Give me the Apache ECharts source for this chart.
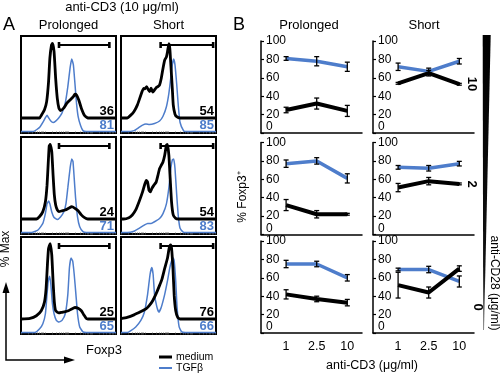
<!DOCTYPE html>
<html><head><meta charset="utf-8">
<script src="https://cdn.jsdelivr.net/npm/echarts@6/dist/echarts.min.js"></script>
<style>html,body{margin:0;padding:0;background:#fff}#c{width:500px;height:373px}</style>
</head><body><div id="c"></div>
<script>
// ---------------- DATA ----------------
const conditions = ['Prolonged', 'Short'];
const cd28Doses = ['10', '2', '0'];
const cd3Doses = ['1', '2.5', '10'];

// Panel A histograms: [Foxp3 position (0-100 across plot), % of max]
const histProlonged10Medium = [[0,0],[19.6,0],[21.3,3],[24.7,10],[27,20],[29,44],[30.4,73],[32.1,89],[33.1,91],[34.8,81],[36.5,48],[38.2,24],[39.9,12],[41.6,9],[44.9,12],[48.3,18],[51.7,22],[55.1,26],[56.8,29],[58.4,28],[60.8,22],[63.5,12],[66.9,3],[70.3,0],[100,0]];
const histProlonged10Tgfb = [[0,0],[12.8,0],[19.6,4.4],[23,9.5],[25.7,14.5],[27.4,17],[29,14.5],[31.4,11],[33.8,9.5],[36.5,11],[39.9,14.5],[43.2,19.6],[46.6,30],[49.3,47],[51.7,67],[53.4,76],[55.1,70],[56.8,50],[58.4,30],[60.1,16],[62.8,6],[65.2,1],[68.6,0],[100,0]];
const histProlonged2Medium = [[0,0],[16.2,0],[19.6,3],[23,9],[25.7,21],[27.4,41],[28.7,69],[29.7,89],[30.7,91],[32.4,82],[33.8,53],[35.1,29],[36.5,17],[38.2,11],[39.9,9],[43.2,10],[46.6,11],[50,13],[53.4,15],[56.8,13],[60.1,10],[63.5,5],[66.9,1.6],[70.3,0],[100,0]];
const histProlonged2Tgfb = [[0,0],[11,0],[17.9,2.7],[23,9.6],[25.7,20],[27.4,30],[29,33],[30.4,30],[32.4,21.5],[34.8,15.7],[38.2,13.7],[41.6,16.4],[45,21.5],[47.3,30],[49.3,47],[51.7,67.6],[53.4,77],[54.7,74.4],[56,57],[57.4,37],[59.5,16.4],[61.8,6],[65.2,1],[68.6,0],[100,0]];
const histProlonged0Medium = [[0,0],[9.5,0.8],[16.2,4],[21.3,10],[24.7,20.6],[26.4,37],[28,70],[29,86],[30.7,92],[32.4,78],[33.8,45],[35.1,20.6],[36.5,10],[39.9,7.4],[43.2,8.2],[46.6,9],[50,10],[53.4,12.3],[56.8,14],[60.1,13],[63.5,10],[66.2,5],[68.6,0.8],[70.3,0],[100,0]];
const histProlonged0Tgfb = [[0,0],[14.5,0],[19.6,4],[23,9.3],[25.7,19.7],[27.4,40],[28.7,54],[30.1,59],[31.4,50.7],[33.1,30],[34.8,19.7],[37.2,12.8],[39.9,11],[43.2,12.8],[46.6,19.7],[49.3,40],[51,68],[52.7,78],[54.4,75],[56,61],[57.8,40],[59.5,19.7],[61.8,5.9],[65.2,0.7],[68.6,0],[100,0]];
const histShort10Medium = [[0,0],[6.5,0],[10,3.2],[13.7,8],[17.3,16],[20.9,28],[23.7,36],[25.2,35.5],[27,38.3],[28.8,34.3],[30.2,32.3],[31.7,36.3],[33.5,31.5],[35.3,34.3],[37,37],[38.8,38.3],[40.6,40.3],[42.4,48.4],[44.2,60.5],[46,70.6],[47.8,74.6],[48.9,80.6],[50.4,90.7],[51.4,84.7],[52.5,64.5],[54,36.3],[55,16],[56.8,4.8],[58.6,1.6],[62.2,0],[100,0]];
const histShort10Tgfb = [[0,0],[6.5,0],[13.7,1],[19,4.4],[22.7,6.8],[26.3,7.8],[29.9,7.4],[35.3,8.4],[40.6,11],[44.2,16],[47.8,26],[50.4,40],[52.5,57],[54,70],[55.4,76],[56.8,70],[58.6,50],[60.4,26],[62.2,9.5],[65.8,1],[68.3,0],[100,0]];
const histShort2Medium = [[0,0],[2.9,0],[8.3,1.6],[11.9,4.9],[15.5,11],[19,21],[22.7,33],[25.2,43],[26.6,47],[28,45],[29.5,35],[30.9,33],[32.4,37],[34.5,41],[37,45],[38.8,53],[40.6,61.5],[42.4,65.6],[44.2,69.6],[46,77.7],[47.8,90],[48.9,91],[50.4,77.7],[51.8,49],[53.2,21],[55,4.9],[57.6,0.8],[60.4,0],[100,0]];
const histShort2Tgfb = [[0,0],[6.5,0],[13.7,1.4],[19,4.4],[24.5,7.8],[28,9.6],[31.7,9.6],[35.3,11.3],[40.6,14.7],[44.2,19.8],[47.8,30],[50.4,47],[52.5,67.6],[54,76],[55.4,77],[56.8,67.6],[58.6,40],[60.4,16.4],[62.2,4.4],[65.8,0.3],[68.3,0],[100,0]];
const histShort0Medium = [[0,0.5],[6.5,2],[13.7,5],[20.9,9],[26.3,12.3],[29.9,16.5],[33.5,22.6],[37,30.9],[40.6,41],[43.2,49],[46,61.7],[48.9,74],[50.7,86.4],[52.2,90.5],[53.2,86.4],[54.7,61.7],[56,28.8],[57.6,10],[59.7,2],[62.2,0],[100,0]];
const histShort0Tgfb = [[0,0],[6.5,0],[10,1.7],[15.5,5.9],[20.9,12.8],[24.5,21],[28,40],[30.6,61],[32.4,68],[33.8,61],[35.3,40],[37.8,26.6],[39.9,21.4],[42.4,26.6],[46,40],[48.9,54],[51.4,68],[53.2,75],[55,78],[56,75],[57.6,54],[59,26.6],[61.2,5.9],[64,0.7],[67.6,0],[100,0]];

const pctMediumProlonged = [36, 24, 25];
const pctTgfbProlonged = [81, 71, 65];
const pctMediumShort = [54, 54, 76];
const pctTgfbShort = [85, 83, 66];
const gateProlonged = [40, 93];
const gateShort = [41.7, 97];
const gateLevel = 89;

// Panel B: rows = anti-CD28 10, 2, 0 ; columns = anti-CD3 1, 2.5, 10
const prolongedMediumMean = [[25, 32, 24], [32, 22, 22], [42, 37, 33]];
const prolongedMediumErr  = [[3, 6, 6], [6, 4, 1], [5, 3, 3.5]];
const prolongedTgfbMean   = [[81, 78, 72], [77, 80, 61], [75, 75, 60]];
const prolongedTgfbErr    = [[2, 5, 5], [4, 3.5, 5], [4, 3, 3.5]];
const shortMediumMean     = [[54, 65, 53], [51, 58, 55], [52, 44, 70]];
const shortMediumErr      = [[1, 3, 1], [4.5, 4, 1], [14, 6, 3]];
const shortTgfbMean       = [[72, 67, 78], [73, 72, 77], [69, 69, 56]];
const shortTgfbErr        = [[4, 3.5, 3], [2, 3, 2.5], [1.5, 3.5, 6]];

// ---------------- BUILD ----------------
const FONT = "'Liberation Sans', Arial, Helvetica, sans-serif";
const BLUE = '#4e7dcb';
const histMedium = [[histProlonged10Medium, histShort10Medium], [histProlonged2Medium, histShort2Medium], [histProlonged0Medium, histShort0Medium]];
const histTgfb = [[histProlonged10Tgfb, histShort10Tgfb], [histProlonged2Tgfb, histShort2Tgfb], [histProlonged0Tgfb, histShort0Tgfb]];
const pctMedium = [pctMediumProlonged, pctMediumShort];
const pctTgfb = [pctTgfbProlonged, pctTgfbShort];
const gates = [gateProlonged, gateShort];
const meanMedium = [prolongedMediumMean, shortMediumMean];
const errMedium = [prolongedMediumErr, shortMediumErr];
const meanTgfb = [prolongedTgfbMean, shortTgfbMean];
const errTgfb = [prolongedTgfbErr, shortTgfbErr];

const A_LEFT = [21, 121], A_W = 95, A_TOP = [36, 137, 237], A_H = 97, A_STRIP = 15;
const B_LEFT = [261, 373], B_W = 101, B_TOP = [41, 142.5, 241], B_H = 92;

const logTicks = [];
for (let d = 0; d < 4; d++) for (let k = 1; k < 10; k++) logTicks.push(d * 25 + Math.log10(k) * 25);

const grid = [], xAxis = [], yAxis = [], series = [], graphic = [];

function txt(text, x, y, o) {
  o = o || {};
  return { type: 'text', x: x, y: y, rotation: o.rot || 0, silent: true, z: 100,
    style: { text: text, x: 0, y: 0, fill: o.color || '#000', align: o.align || 'center', verticalAlign: o.valign || 'middle',
      font: (o.weight || 'normal') + ' ' + (o.size || 12) + 'px ' + FONT } };
}

function errorSeries(gi, means, errs) {
  return { type: 'custom', xAxisIndex: gi, yAxisIndex: gi, z: 6, silent: true,
    data: means.map((m, i) => [i, m - errs[i], m + errs[i]]),
    renderItem: function (params, api) {
      const lo = api.coord([api.value(0), api.value(1)]);
      const hi = api.coord([api.value(0), api.value(2)]);
      const w = 2.5, st = { stroke: '#000', lineWidth: 1.3 };
      return { type: 'group', children: [
        { type: 'line', shape: { x1: lo[0], y1: lo[1], x2: hi[0], y2: hi[1] }, style: st },
        { type: 'line', shape: { x1: lo[0] - w, y1: lo[1], x2: lo[0] + w, y2: lo[1] }, style: st },
        { type: 'line', shape: { x1: hi[0] - w, y1: hi[1], x2: hi[0] + w, y2: hi[1] }, style: st }
      ] };
    } };
}

// Panel A
for (let r = 0; r < 3; r++) {
  for (let c = 0; c < 2; c++) {
    const gi = (r * 2 + c) * 2;
    grid.push({ left: A_LEFT[c], top: A_TOP[r], width: A_W, height: A_H, show: true, borderColor: '#000', borderWidth: 2, backgroundColor: 'transparent' });
    grid.push({ left: A_LEFT[c], top: A_TOP[r], width: A_W, height: A_H - A_STRIP });
    xAxis.push({ gridIndex: gi, type: 'value', min: 0, max: 100, axisLine: { show: false }, axisLabel: { show: false }, splitLine: { show: false },
      axisTick: { show: true, customValues: logTicks, length: 2, inside: false, lineStyle: { color: '#444', width: 0.8 } } });
    xAxis.push({ gridIndex: gi + 1, type: 'value', min: 0, max: 100, show: false });
    yAxis.push({ gridIndex: gi, type: 'value', min: -1.5, max: 100, show: false });
    yAxis.push({ gridIndex: gi + 1, type: 'value', min: 0, max: 100, show: false });
    series.push({ type: 'line', xAxisIndex: gi, yAxisIndex: gi, data: histTgfb[r][c], symbol: 'none', smooth: 0.15, clip: false,
      lineStyle: { color: BLUE, width: 1.5 }, z: 2, silent: true });
    series.push({ type: 'line', xAxisIndex: gi + 1, yAxisIndex: gi + 1, data: histMedium[r][c], symbol: 'none', smooth: 0.15, clip: false,
      lineStyle: { color: '#000', width: 2.8 }, z: 3, silent: true });
    series.push({ type: 'custom', xAxisIndex: gi + 1, yAxisIndex: gi + 1, z: 4, silent: true,
      data: [[gates[c][0], gates[c][1], gateLevel]],
      renderItem: function (params, api) {
        const p1 = api.coord([api.value(0), api.value(2)]);
        const p2 = api.coord([api.value(1), api.value(2)]);
        return { type: 'group', children: [
          { type: 'line', shape: { x1: p1[0], y1: p1[1], x2: p2[0], y2: p2[1] }, style: { stroke: '#000', lineWidth: 2 } },
          { type: 'rect', shape: { x: p1[0] - 1.3, y: p1[1] - 3, width: 2.6, height: 6 }, style: { fill: '#000' } },
          { type: 'rect', shape: { x: p2[0] - 1.3, y: p2[1] - 3, width: 2.6, height: 6 }, style: { fill: '#000' } }
        ] };
      } });
    const sep = A_TOP[r] + A_H - A_STRIP;
    const rx = A_LEFT[c] + A_W - 2;
    graphic.push(txt(String(pctMedium[c][r]), rx, sep - 7, { align: 'right', size: 13, weight: 'bold' }));
    graphic.push(txt(String(pctTgfb[c][r]), rx, sep + 7.5, { align: 'right', size: 13, weight: 'bold', color: BLUE }));
  }
}

// Panel B
for (let r = 0; r < 3; r++) {
  for (let c = 0; c < 2; c++) {
    const gi = grid.length;
    grid.push({ left: B_LEFT[c], top: B_TOP[r], width: B_W, height: B_H });
    xAxis.push({ gridIndex: gi, type: 'value', min: -0.82, max: 2.48,
      axisLine: { show: true, onZero: false, lineStyle: { color: '#000', width: 1.5 } }, axisTick: { show: false }, splitLine: { show: false },
      axisLabel: { show: r === 2, customValues: [0, 1, 2], formatter: v => cd3Doses[Math.round(v)], color: '#000', fontSize: 12.5, fontFamily: FONT, margin: 7 } });
    yAxis.push({ gridIndex: gi, type: 'value', min: 0, max: 100, interval: 20,
      axisLine: { show: true, onZero: false, lineStyle: { color: '#000', width: 1.5 } },
      axisTick: { show: true, inside: true, length: 3, lineStyle: { color: '#000', width: 1.2 } },
      splitLine: { show: false },
      axisLabel: { inside: true, margin: 5, color: '#000', fontSize: 12, fontFamily: FONT,
        showMinLabel: true, showMaxLabel: true, hideOverlap: false, verticalAlignMinLabel: 'bottom' } });
    series.push({ type: 'line', xAxisIndex: gi, yAxisIndex: gi, data: meanTgfb[c][r].map((m, i) => [i, m]), symbol: 'none',
      lineStyle: { color: BLUE, width: 3.5 }, z: 2, silent: true });
    series.push({ type: 'line', xAxisIndex: gi, yAxisIndex: gi, data: meanMedium[c][r].map((m, i) => [i, m]), symbol: 'none',
      lineStyle: { color: '#000', width: 4 }, z: 3, silent: true });
    series.push(errorSeries(gi, meanTgfb[c][r], errTgfb[c][r]));
    series.push(errorSeries(gi, meanMedium[c][r], errMedium[c][r]));
  }
}

// Texts & decorations
graphic.push(txt('anti-CD3 (10 \u03bcg/ml)', 122, 7, { size: 13 }));
graphic.push(txt('A', 3, 25, { size: 18, align: 'left' }));
graphic.push(txt('B', 233, 25, { size: 18, align: 'left' }));
graphic.push(txt(conditions[0], A_LEFT[0] + A_W / 2, 25.5, { size: 13 }));
graphic.push(txt(conditions[1], A_LEFT[1] + A_W / 2, 25.5, { size: 13 }));
graphic.push(txt(conditions[0], 309, 25, { size: 13 }));
graphic.push(txt(conditions[1], 424, 25, { size: 13 }));
graphic.push(txt('% Max', 6, 249, { size: 12, rot: Math.PI / 2 }));
graphic.push(txt('% Foxp3\u207a', 243, 197, { size: 12, rot: Math.PI / 2 }));
graphic.push(txt('Foxp3', 104, 350, { size: 13 }));
graphic.push(txt('medium', 176, 357, { size: 10.5, align: 'left' }));
graphic.push(txt('TGF\u03b2', 176, 368, { size: 10.5, align: 'left' }));
graphic.push(txt('anti-CD3 (\u03bcg/ml)', 372, 366, { size: 12.5 }));
const cd28LabelPos = [[472, 84], [472, 184], [478, 307]];
cd28Doses.forEach((d, i) => graphic.push(txt(d, cd28LabelPos[i][0], cd28LabelPos[i][1], { size: 13, weight: 'bold', rot: -Math.PI / 2 })));
graphic.push(txt('anti-CD28 (\u03bcg/ml)', 494, 283, { size: 12, rot: -Math.PI / 2 }));
graphic.push({ type: 'line', silent: true, shape: { x1: 159, y1: 357, x2: 172, y2: 357 }, style: { stroke: '#000', lineWidth: 3 } });
graphic.push({ type: 'line', silent: true, shape: { x1: 159, y1: 368, x2: 172, y2: 368 }, style: { stroke: BLUE, lineWidth: 2 } });
graphic.push({ type: 'polyline', silent: true, shape: { points: [[6, 290], [6, 360], [66, 360]] }, style: { stroke: '#000', lineWidth: 1.5, fill: null } });
graphic.push({ type: 'polygon', silent: true, shape: { points: [[2.5, 293], [9.5, 293], [6, 282]] }, style: { fill: '#000' } });
graphic.push({ type: 'polygon', silent: true, shape: { points: [[64, 356.5], [64, 363.5], [75, 360]] }, style: { fill: '#000' } });
graphic.push({ type: 'polygon', silent: true, shape: { points: [[482.7, 35], [490.7, 35], [484, 330], [483.2, 330]] },
  style: { fill: { type: 'linear', x: 0, y: 0, x2: 0, y2: 1, colorStops: [{ offset: 0, color: '#000' }, { offset: 0.8, color: '#111' }, { offset: 1, color: '#777' }] } } });

const chart = echarts.init(document.getElementById('c'), null, { renderer: 'canvas' });
chart.setOption({ animation: false, backgroundColor: '#fff', grid: grid, xAxis: xAxis, yAxis: yAxis, series: series, graphic: graphic });
</script></body></html>
